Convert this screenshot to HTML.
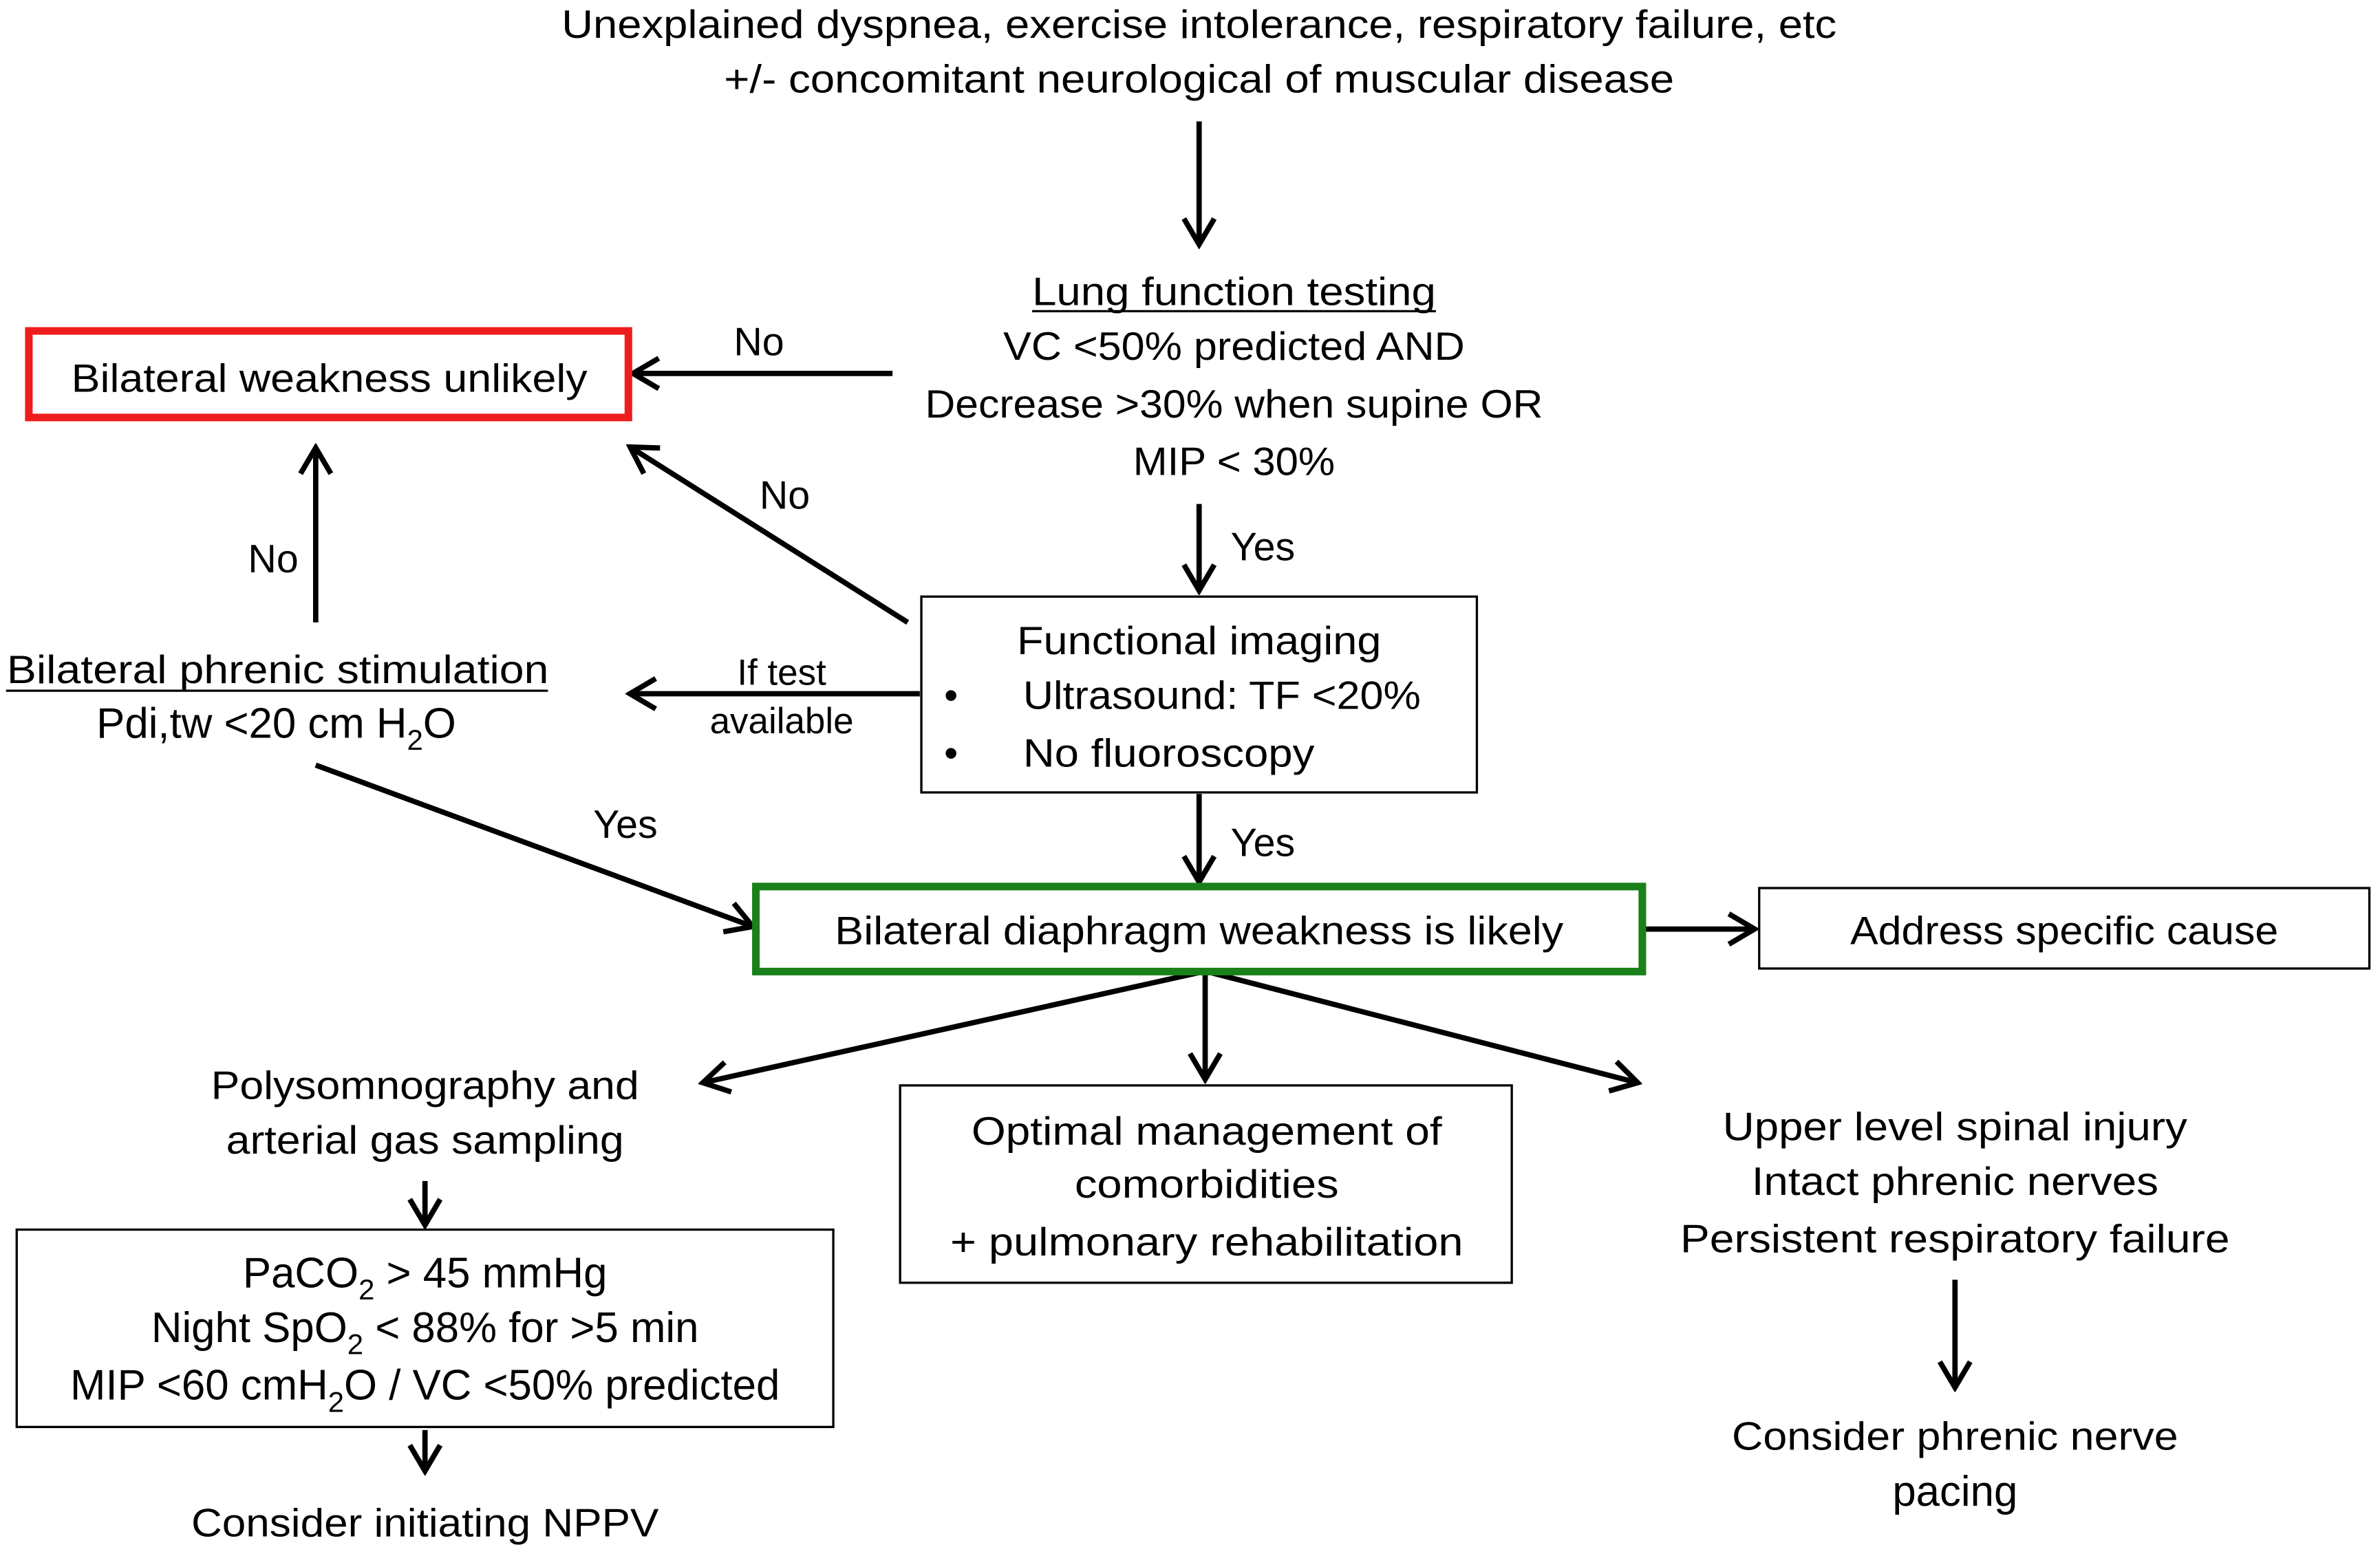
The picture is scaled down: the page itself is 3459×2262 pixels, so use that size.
<!DOCTYPE html>
<html><head><meta charset="utf-8"><style>
html,body{margin:0;padding:0;background:#fff}
svg{display:block}
text{font-family:"Liberation Sans",sans-serif;font-size:26px;fill:#000}
.s{font-size:19px}
.b{font-size:28px}
</style></head><body>
<svg width="3459" height="2262" viewBox="0 0 1568 1025" preserveAspectRatio="none" xmlns="http://www.w3.org/2000/svg">
<defs>
<marker id="b" markerWidth="24" markerHeight="24" refX="20" refY="12" orient="auto" markerUnits="userSpaceOnUse">
<path d="M4,2 L21,12 L4,22" fill="none" stroke="#000" stroke-width="3.5"/>
</marker>
</defs>
<g stroke="#000" stroke-width="3.5" fill="none" marker-end="url(#b)">
<line x1="790" y1="80" x2="790" y2="160"/>
<line x1="588" y1="246" x2="418" y2="246"/>
<line x1="598" y1="410" x2="416" y2="295"/>
<line x1="208" y1="410" x2="208" y2="296"/>
<line x1="790" y1="332" x2="790" y2="388"/>
<line x1="606" y1="457" x2="416" y2="457"/>
<line x1="790" y1="523" x2="790" y2="580"/>
<line x1="208" y1="504" x2="495" y2="610"/>
<line x1="1084" y1="612" x2="1155" y2="612"/>
<line x1="793" y1="640" x2="464" y2="713"/>
<line x1="794" y1="640" x2="794" y2="710"/>
<line x1="795" y1="640" x2="1078" y2="713"/>
<line x1="280" y1="778" x2="280" y2="806"/>
<line x1="280" y1="942" x2="280" y2="968"/>
<line x1="1288" y1="843" x2="1288" y2="913"/>
</g>
<rect x="19" y="218" width="395" height="57" fill="none" stroke="#ee1c1c" stroke-width="5"/>
<rect x="498" y="584" width="584" height="56" fill="none" stroke="#1a801a" stroke-width="5"/>
<g fill="none" stroke="#000" stroke-width="1.5">
<rect x="607" y="393" width="366" height="129"/>
<rect x="1159" y="585" width="402" height="53"/>
<rect x="11" y="810" width="538" height="130"/>
<rect x="593" y="715" width="403" height="130"/>
</g>
<g text-anchor="middle">
<text x="790" y="25" textLength="840" lengthAdjust="spacingAndGlyphs">Unexplained dyspnea, exercise intolerance, respiratory failure, etc</text>
<text x="790" y="61" textLength="626" lengthAdjust="spacingAndGlyphs">+/- concomitant neurological of muscular disease</text>
<text x="813" y="201" textLength="266" lengthAdjust="spacingAndGlyphs">Lung function testing</text>
<line x1="680" y1="205" x2="946" y2="205" stroke="#000" stroke-width="1.5"/>
<text x="813" y="237" textLength="304" lengthAdjust="spacingAndGlyphs">VC &lt;50% predicted AND</text>
<text x="813" y="275" textLength="407" lengthAdjust="spacingAndGlyphs">Decrease &gt;30% when supine OR</text>
<text x="813" y="313" textLength="133" lengthAdjust="spacingAndGlyphs">MIP &lt; 30%</text>
<text x="217" y="258" textLength="340" lengthAdjust="spacingAndGlyphs">Bilateral weakness unlikely</text>
<text x="500" y="234">No</text>
<text x="517" y="335">No</text>
<text x="180" y="377">No</text>
<text x="183" y="450" textLength="357" lengthAdjust="spacingAndGlyphs">Bilateral phrenic stimulation</text>
<line x1="4" y1="455" x2="361" y2="455" stroke="#000" stroke-width="1.5"/>
<text x="182" y="486" class="b">Pdi,tw &lt;20 cm H<tspan class="s" dy="8">2</tspan><tspan dy="-8">O</tspan></text>
<text x="832" y="369">Yes</text>
<text x="790" y="431" textLength="240" lengthAdjust="spacingAndGlyphs">Functional imaging</text>
<text x="515" y="451" style="font-size:24px">If test</text>
<text x="515" y="483" style="font-size:24px">available</text>
<text x="832" y="564">Yes</text>
<text x="412" y="552">Yes</text>
<text x="790" y="622" textLength="480" lengthAdjust="spacingAndGlyphs">Bilateral diaphragm weakness is likely</text>
<text x="1360" y="622" textLength="282" lengthAdjust="spacingAndGlyphs">Address specific cause</text>
<text x="280" y="724" textLength="282" lengthAdjust="spacingAndGlyphs">Polysomnography and</text>
<text x="280" y="760" textLength="262" lengthAdjust="spacingAndGlyphs">arterial gas sampling</text>
<text x="280" y="848" class="b">PaCO<tspan class="s" dy="8">2</tspan><tspan dy="-8"> &gt; 45 mmHg</tspan></text>
<text x="280" y="884" class="b">Night SpO<tspan class="s" dy="8">2</tspan><tspan dy="-8"> &lt; 88% for &gt;5 min</tspan></text>
<text x="280" y="922" class="b">MIP &lt;60 cmH<tspan class="s" dy="8">2</tspan><tspan dy="-8">O / VC &lt;50% predicted</tspan></text>
<text x="280" y="1012" textLength="308" lengthAdjust="spacingAndGlyphs">Consider initiating NPPV</text>
<text x="795" y="754" textLength="310" lengthAdjust="spacingAndGlyphs">Optimal management of</text>
<text x="795" y="789" textLength="174" lengthAdjust="spacingAndGlyphs">comorbidities</text>
<text x="795" y="827" textLength="338" lengthAdjust="spacingAndGlyphs">+ pulmonary rehabilitation</text>
<text x="1288" y="751" textLength="306" lengthAdjust="spacingAndGlyphs">Upper level spinal injury</text>
<text x="1288" y="787" textLength="268" lengthAdjust="spacingAndGlyphs">Intact phrenic nerves</text>
<text x="1288" y="825" textLength="362" lengthAdjust="spacingAndGlyphs">Persistent respiratory failure</text>
<text x="1288" y="955" textLength="294" lengthAdjust="spacingAndGlyphs">Consider phrenic nerve</text>
<text x="1288" y="992" class="b">pacing</text>
</g>
<text x="622" y="467">•</text>
<text x="622" y="505">•</text>
<text x="674" y="467" textLength="262" lengthAdjust="spacingAndGlyphs">Ultrasound: TF &lt;20%</text>
<text x="674" y="505" textLength="192" lengthAdjust="spacingAndGlyphs">No fluoroscopy</text>
</svg>
</body></html>
